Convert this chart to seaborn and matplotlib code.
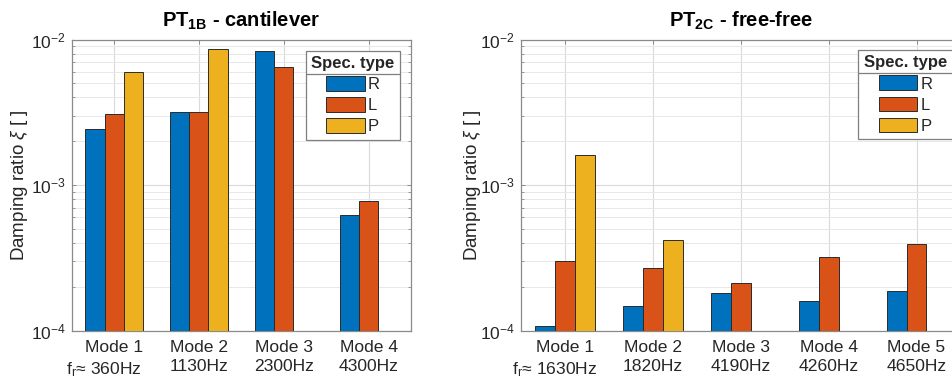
import numpy as np
import pandas as pd
import matplotlib
matplotlib.use("Agg")
import matplotlib.pyplot as plt
import seaborn as sns
from matplotlib.patches import Patch
from matplotlib.lines import Line2D
from matplotlib.ticker import LogLocator, NullFormatter

sns.set_theme(style="white")
plt.rcParams['font.family'] = ['Liberation Sans', 'DejaVu Sans']
plt.rcParams['mathtext.fontset'] = 'custom'
plt.rcParams['mathtext.rm'] = 'Liberation Sans'
plt.rcParams['mathtext.it'] = 'Liberation Sans:italic'
plt.rcParams['mathtext.bf'] = 'Liberation Sans:bold'
plt.rcParams['mathtext.default'] = 'regular'

# ---------------- data ----------------
spec_types = ["R", "L", "P"]
spec_colors = ["#0072BD", "#D95319", "#EDB120"]

modes_1b = ["Mode 1", "Mode 2", "Mode 3", "Mode 4"]
freqs_1b = ["360Hz", "1130Hz", "2300Hz", "4300Hz"]
R_1b = [2.43e-3, 3.16e-3, 8.34e-3, 6.25e-4]
L_1b = [3.06e-3, 3.16e-3, 6.47e-3, 7.73e-4]
P_1b = [6.00e-3, 8.65e-3, np.nan, np.nan]

modes_2c = ["Mode 1", "Mode 2", "Mode 3", "Mode 4", "Mode 5"]
freqs_2c = ["1630Hz", "1820Hz", "4190Hz", "4260Hz", "4650Hz"]
R_2c = [1.08e-4, 1.48e-4, 1.81e-4, 1.60e-4, 1.86e-4]
L_2c = [3.00e-4, 2.70e-4, 2.11e-4, 3.21e-4, 3.94e-4]
P_2c = [1.61e-3, 4.19e-4, np.nan, np.nan, np.nan]

title_1b = r"$\mathbf{PT_{1B}}$ - cantilever"
title_2c = r"$\mathbf{PT_{2C}}$ - free-free"
ylabel = r"Damping ratio $\mathit{\xi}$ [ ]"
legend_title = "Spec. type"


def long_df(modes, series):
    rows = []
    for spec, vals in zip(spec_types, series):
        for m, v in zip(modes, vals):
            if not np.isnan(v):
                rows.append({"mode": m, "spec": spec, "value": v})
    return pd.DataFrame(rows)


AX_COLOR = "#8a8a8a"
TXT_COLOR = "#262626"
LS = 0.3  # legend label spacing
LEG_FS = 12

fig = plt.figure(figsize=(9.53, 3.88), dpi=100)
ax1 = fig.add_axes([71.7 / 953, 57.5 / 388, 339.3 / 953, 291 / 388])
ax2 = fig.add_axes([521 / 953, 57.5 / 388, 439.5 / 953, 291 / 388])

palette = dict(zip(spec_types, spec_colors))
legends = []

for ax, modes, freqs, series, title, ylc, leg_anchor in [
    (ax1, modes_1b, freqs_1b, (R_1b, L_1b, P_1b), title_1b, -0.122, (0.9676, 0.9615)),
    (ax2, modes_2c, freqs_2c, (R_2c, L_2c, P_2c), title_2c, -0.0865, (0.9818, 0.964)),
]:
    df = long_df(modes, series)
    sns.barplot(data=df, x="mode", y="value", hue="spec", order=modes,
                hue_order=spec_types, palette=palette, saturation=1,
                width=0.675, gap=0, errorbar=None, edgecolor="#2b2b2b",
                linewidth=0.7, legend=False, ax=ax, zorder=3)
    ax.set_yscale("log")
    ax.set_ylim(1e-4, 1e-2)
    ax.set_xlim(-0.5, len(modes) - 0.5)
    ax.yaxis.set_major_locator(LogLocator(base=10, numticks=5))
    ax.yaxis.set_minor_locator(LogLocator(base=10, subs=np.arange(2, 10), numticks=20))
    ax.yaxis.set_minor_formatter(NullFormatter())

    labels = []
    for i, (m, f) in enumerate(zip(modes, freqs)):
        second = ("f$_r$≈ " + f + "     ") if i == 0 else f
        labels.append(m + "\n" + second)
    ax.set_xticks(range(len(modes)))
    ax.set_xticklabels(labels, fontsize=12.6, color=TXT_COLOR, linespacing=1.35)

    ax.set_xlabel("")
    ax.set_ylabel(ylabel, fontsize=13.5, color=TXT_COLOR)
    ax.yaxis.set_label_coords(ylc, 0.5)
    ax.set_title(title, fontsize=14.5, fontweight="bold", color="#000000", pad=9.5)

    ax.tick_params(axis="x", which="major", direction="in", top=True, bottom=True,
                   length=3, width=0.7, color=AX_COLOR, pad=7)
    ax.tick_params(axis="y", which="major", direction="in", left=True, right=True,
                   length=3, width=0.7, color=AX_COLOR, labelsize=12.5,
                   labelcolor=TXT_COLOR, pad=4.3)
    ax.tick_params(axis="y", which="minor", direction="in", left=True, right=True,
                   length=2, width=0.6, color=AX_COLOR)

    ax.set_axisbelow(True)
    ax.grid(True, which="major", axis="both", color="#dadada", linewidth=0.8)
    ax.grid(True, which="minor", axis="y", color="#e8e8e8", linewidth=0.7)
    for sp in ax.spines.values():
        sp.set_visible(True)
        sp.set_color(AX_COLOR)
        sp.set_linewidth(0.9)

    handles = [Patch(facecolor=c, edgecolor="#2b2b2b", linewidth=0.7) for c in spec_colors]
    leg = ax.legend(handles, spec_types, title=legend_title, loc="upper right",
                    bbox_to_anchor=leg_anchor, borderaxespad=0, fontsize=LEG_FS,
                    title_fontproperties={"weight": "bold", "size": LEG_FS},
                    handlelength=2.32, handleheight=0.98, handletextpad=0.18,
                    labelspacing=LS, borderpad=0.33, alignment="center",
                    frameon=True, fancybox=False, framealpha=1, edgecolor="#7f7f7f")
    leg.get_frame().set_linewidth(0.9)
    leg.set_zorder(10)
    legends.append(leg)

# separator line under each legend title
fig.canvas.draw()
inv = fig.transFigure.inverted()
for leg in legends:
    bb = leg.get_window_extent()
    tb = leg.get_title().get_window_extent()
    y = tb.y0 - LS * LEG_FS * fig.dpi / 72 / 2
    (x0, yy), (x1, _) = inv.transform([(bb.x0, y), (bb.x1, y)])
    fig.add_artist(Line2D([x0, x1], [yy, yy], color="#7f7f7f", linewidth=0.9,
                          transform=fig.transFigure, zorder=20))

fig.savefig("out.png", dpi=100)
